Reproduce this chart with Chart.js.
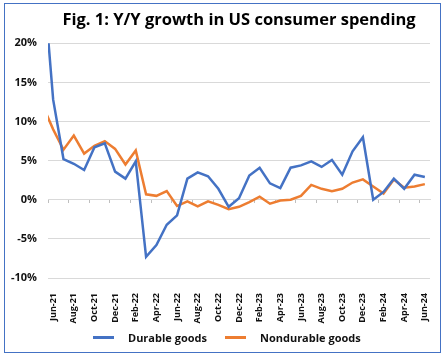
<!DOCTYPE html>
<html>
<head>
<meta charset="utf-8">
<script src="https://cdn.jsdelivr.net/npm/chart.js@4"></script>
<style>
    html, body { margin: 0; padding: 0; background: #fff; }
    #wrap { position: relative; width: 446px; height: 357px; }
    #spendChart { display: block; }
    #frame { position: absolute; left: 4px; top: 3px; width: 437px; height: 350px; border: 1px solid #4472c4; box-sizing: border-box; pointer-events: none; }
    #legend { position: absolute; left: 93px; top: 330px; height: 14px; display: flex; align-items: center; white-space: nowrap;
              font: bold 11px 'Open Sans', sans-serif; color: #111; }
    #legend .item { display: flex; align-items: center; margin-right: 18px; }
    #legend .swatch { width: 21px; height: 3px; margin-right: 14px; }
</style>
</head>
<body>
<div id="wrap">
    <canvas id="spendChart" width="446" height="357"></canvas>
    <div id="legend"></div>
    <div id="frame"></div>
</div>
<script>
// May-21 sits just left of the visible axis so the first segment runs in from the edge
const months = ['May-21',
    'Jun-21', 'Jul-21', 'Aug-21', 'Sep-21', 'Oct-21', 'Nov-21', 'Dec-21',
    'Jan-22', 'Feb-22', 'Mar-22', 'Apr-22', 'May-22', 'Jun-22', 'Jul-22', 'Aug-22', 'Sep-22', 'Oct-22', 'Nov-22', 'Dec-22',
    'Jan-23', 'Feb-23', 'Mar-23', 'Apr-23', 'May-23', 'Jun-23', 'Jul-23', 'Aug-23', 'Sep-23', 'Oct-23', 'Nov-23', 'Dec-23',
    'Jan-24', 'Feb-24', 'Mar-24', 'Apr-24', 'May-24', 'Jun-24'];

const durable = [29,
    12.8, 5.2, 4.6, 3.8, 6.7, 7.2, 3.6,
    2.7, 4.9, -7.3, -5.8, -3.2, -2.0, 2.7, 3.5, 3.0, 1.4, -0.9, 0.2,
    3.1, 4.1, 2.1, 1.5, 4.1, 4.4, 4.9, 4.2, 5.1, 3.2, 6.2, 8.0,
    0.0, 1.0, 2.7, 1.4, 3.2, 2.9];

const nondurable = [12,
    9.0, 6.4, 8.2, 5.9, 6.9, 7.5, 6.5,
    4.5, 6.3, 0.7, 0.5, 1.1, -0.8, -0.2, -0.85, -0.2, -0.65, -1.2, -0.9,
    -0.3, 0.4, -0.5, -0.1, 0.0, 0.5, 1.9, 1.4, 1.1, 1.4, 2.2, 2.6,
    1.7, 0.8, 2.6, 1.55, 1.7, 2.0];

const yTicks = { min: -10, max: 20, step: 5 };
const firstMonth = 'Jun-21';

const FONT = "'Open Sans', sans-serif";

const ctx = document.getElementById('spendChart').getContext('2d');
const chart = new Chart(ctx, {
    type: 'line',
    data: {
        labels: months,
        datasets: [
            { label: 'Durable goods', data: durable, borderColor: '#4472c4', backgroundColor: '#4472c4', borderWidth: 2.5, pointRadius: 0, tension: 0 },
            { label: 'Nondurable goods', data: nondurable, borderColor: '#ed7d31', backgroundColor: '#ed7d31', borderWidth: 2.5, pointRadius: 0, tension: 0 }
        ]
    },
    options: {
        responsive: false,
        animation: false,
        devicePixelRatio: 1,
        // bottom room is kept free for the html legend
        layout: { padding: { left: 0, right: 16, top: 0, bottom: 29 } },
        plugins: {
            title: {
                display: true,
                fullSize: false,
                text: 'Fig. 1: Y/Y growth in US consumer spending',
                color: '#000',
                font: { family: FONT, size: 16.5, weight: 'bold' },
                padding: { top: 10, bottom: 13.5 }
            },
            legend: { display: false },
            tooltip: { enabled: false }
        },
        scales: {
            x: {
                type: 'category',
                min: firstMonth,
                offset: true,
                grid: { display: false },
                border: { display: false },
                ticks: {
                    autoSkip: false, maxRotation: 90, minRotation: 90, padding: 7,
                    color: '#111',
                    font: { family: FONT, size: 9, weight: 'bold' },
                    callback: function (value, index) { return index % 2 ? '' : this.getLabelForValue(value); }
                },
                afterFit: (s) => { s.height = 50; }
            },
            x2: {
                type: 'category',
                min: firstMonth,
                offset: true,
                position: { y: 0 },
                grid: {
                    display: true, drawOnChartArea: false, drawTicks: true, tickLength: 3, offset: true,
                    color: (c) => c.index % 2 === 0 ? '#bfbfbf' : 'rgba(0,0,0,0)'
                },
                border: { display: true, color: '#d9d9d9' },
                ticks: { display: false }
            },
            y: {
                min: yTicks.min,
                max: yTicks.max,
                grid: { color: '#d9d9d9', drawTicks: false },
                border: { display: false },
                ticks: {
                    stepSize: yTicks.step, padding: 11,
                    color: '#111',
                    font: { family: FONT, size: 11, weight: 'bold' },
                    callback: (v) => v + '%'
                },
                afterFit: (s) => { s.width = 48; }
            }
        }
    }
});

// legend built from the datasets
const legendEl = document.getElementById('legend');
chart.data.datasets.forEach(ds => {
    const item = document.createElement('span');
    item.className = 'item';
    const swatch = document.createElement('span');
    swatch.className = 'swatch';
    swatch.style.background = ds.borderColor;
    const text = document.createElement('span');
    text.textContent = ds.label;
    item.append(swatch, text);
    legendEl.append(item);
});
</script>
</body>
</html>
